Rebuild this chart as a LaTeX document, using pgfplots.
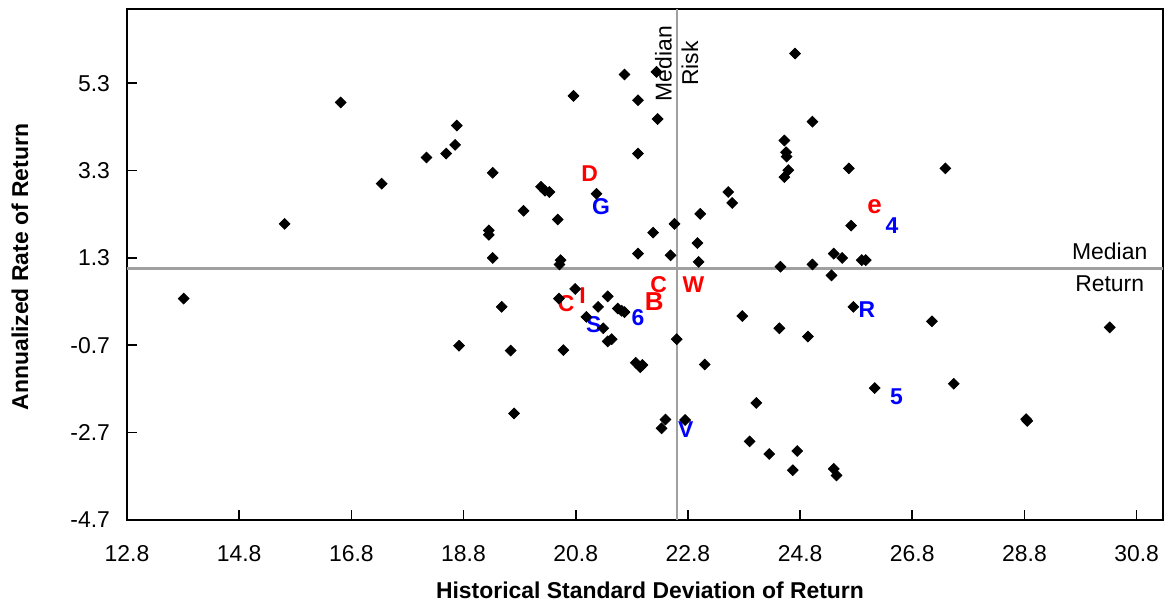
\documentclass[border=0pt]{standalone}
\usepackage{fontspec}
\setmainfont{Liberation Sans}
\usepackage{pgfplots}
\pgfplotsset{compat=1.18}
\definecolor{medgray}{RGB}{160,160,160}
\definecolor{lblred}{RGB}{255,0,0}
\definecolor{lblblue}{RGB}{0,0,255}
\pgfplotstableread{
x y
16.61 4.86
15.61 2.08
17.34 3.00
18.14 3.60
18.49 3.69
18.65 3.89
18.68 4.33
19.32 3.25
19.25 1.93
19.25 1.83
19.32 1.30
19.87 2.38
20.18 2.93
20.25 2.84
20.33 2.81
20.48 2.18
20.53 1.25
20.51 1.15
20.76 5.01
21.17 2.77
21.67 5.50
21.91 4.91
21.91 3.69
21.91 1.40
24.71 5.98
22.24 5.56
22.26 4.48
25.02 4.42
24.52 3.99
24.55 3.72
24.56 3.62
24.59 3.31
24.52 3.15
25.67 3.35
27.39 3.35
23.52 2.81
23.59 2.56
23.02 2.31
22.56 2.08
22.18 1.88
22.97 1.64
22.49 1.36
22.99 1.21
25.71 2.04
24.45 1.10
25.02 1.15
25.40 1.40
25.55 1.30
25.90 1.25
25.97 1.25
25.36 0.90
25.75 0.18
23.77 -0.03
24.43 -0.31
24.94 -0.50
27.15 -0.15
30.32 -0.29
22.60 -0.56
23.10 -1.14
26.13 -1.68
27.54 -1.58
24.02 -2.02
28.83 -2.39
28.85 -2.43
22.40 -2.40
22.33 -2.60
22.75 -2.41
23.90 -2.90
24.25 -3.19
24.75 -3.12
24.67 -3.56
25.40 -3.53
25.45 -3.68
13.81 0.37
18.72 -0.71
19.48 0.18
19.64 -0.82
19.70 -2.26
20.50 0.37
20.79 0.59
20.58 -0.81
21.37 0.42
21.20 0.18
20.99 -0.05
21.29 -0.31
21.37 -0.61
21.44 -0.56
21.55 0.14
21.62 0.09
21.67 0.06
21.87 -1.10
21.99 -1.15
21.95 -1.20
}\pointsdata
\begin{document}
\begin{tikzpicture}
\begin{axis}[
  at={(0,0)}, anchor=south west,
  scale only axis, width=518bp, height=255.5bp,
  xmin=12.8, xmax=31.27, ymin=-4.7, ymax=7.0,
  axis line style={black, line width=1bp},
  xtick={12.8,14.8,16.8,18.8,20.8,22.8,24.8,26.8,28.8,30.8},
  xticklabels={12.8,14.8,16.8,18.8,20.8,22.8,24.8,26.8,28.8,30.8},
  ytick={-4.7,-2.7,-0.7,1.3,3.3,5.3},
  yticklabels={-4.7,-2.7,-0.7,1.3,3.3,5.3},
  tick align=inside, xtick pos=bottom, ytick pos=left,
  major tick length=5bp,
  tick style={black, line width=0.8bp},
  ticklabel style={font=\fontsize{11.5}{13}\selectfont},
  xticklabel style={yshift=-9.4bp},
  yticklabel style={xshift=-5bp},
  xlabel={Historical Standard Deviation of Return},
  ylabel={Annualized Rate of Return},
  label style={font=\bfseries\fontsize{11.5}{13}\selectfont},
  xlabel style={at={(axis description cs:0.5048,-0.137)}, anchor=center},
  ylabel style={at={(axis description cs:-0.1033,0.495)}, anchor=center},
  clip=false,
]
\addplot[medgray, line width=1.15bp] coordinates {(22.6,-4.7) (22.6,7.0)};
\addplot[medgray, line width=1.15bp] coordinates {(12.8,1.06) (31.27,1.06)};
\addplot[only marks, mark=square*, mark size=1.9bp, mark options={rotate=45, fill=black, draw=black}] table[x=x,y=y] {\pointsdata};
\node[font=\fontsize{11.5}{13.35}\selectfont, rotate=90, align=center] at (axis cs:22.6,5.75) {Median\\Risk};
\node[font=\fontsize{11.5}{15.8}\selectfont, align=center] at (axis cs:30.32,1.09) {Median\\Return};
\tikzset{lbl/.style={font=\bfseries\fontsize{11.5}{13}\selectfont, inner sep=0pt}}
\node[lbl, text=lblred] at (axis cs:21.05,3.23) {D};
\node[lbl, text=lblblue] at (axis cs:21.25,2.48) {G};
\node[lbl, text=lblred] at (axis cs:22.28,0.69) {C};
\node[lbl, text=lblred] at (axis cs:22.90,0.68) {W};
\node[lbl, text=lblred] at (axis cs:20.92,0.44) {I};
\node[lbl, text=lblred] at (axis cs:20.63,0.25) {C};
\node[lbl, text=lblred, font=\bfseries\fontsize{13}{15}\selectfont] at (axis cs:22.20,0.29) {B};
\node[lbl, text=lblblue] at (axis cs:21.91,-0.06) {6};
\node[lbl, text=lblblue] at (axis cs:21.12,-0.22) {S};
\node[lbl, text=lblred, font=\bfseries\fontsize{13}{15}\selectfont] at (axis cs:26.13,2.47) {e};
\node[lbl, text=lblblue] at (axis cs:26.44,2.05) {4};
\node[lbl, text=lblblue] at (axis cs:25.99,0.12) {R};
\node[lbl, text=lblblue] at (axis cs:26.52,-1.88) {5};
\node[lbl, text=lblblue] at (axis cs:22.76,-2.64) {V};
\end{axis}
\pgfresetboundingbox
\path (-63.5bp,-42bp) rectangle (518.5bp,260bp);
\end{tikzpicture}
\end{document}
